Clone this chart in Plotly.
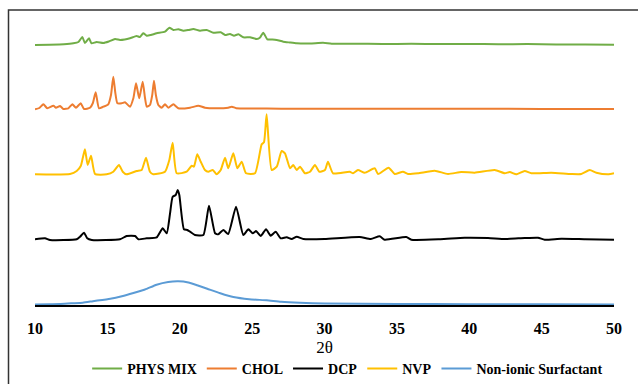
import plotly.graph_objects as go

# ---------------- data ----------------
phys_x = [10, 11, 12, 12.65, 13.0, 13.27, 13.45, 13.73, 13.9, 14.26, 14.72, 15.1, 15.53, 15.87,
          16.2, 16.56, 17.02, 17.25, 17.48, 17.72, 18.0, 18.4, 18.98, 19.28, 19.56, 19.9, 20.25,
          20.6, 20.94, 21.4, 21.86, 22.32, 22.83, 23.13, 23.47, 23.75, 24.05, 24.39, 24.85,
          25.32, 25.55, 25.77, 26.05, 26.4, 26.7, 27.15, 27.6, 28.08, 29.0, 29.9, 30.5, 32,
          34, 36, 38, 40, 42, 44, 46, 48, 50]
phys_y = [258, 258.3, 258.8, 259.7, 261, 266, 260, 264.7, 259.7, 261, 260, 261.5, 264, 263,
          263.5, 264.7, 267, 266, 269.7, 267.3, 268, 269.7, 271.3, 275.3, 273, 273.7, 272.3,
          273, 274, 272.3, 273, 270.3, 270.7, 268, 269, 267.3, 268.7, 265.7, 265.7,
          264, 265.5, 270.3, 263.7, 263.5, 263, 261.3, 260.5, 259.7, 259.5, 260.2, 259.3, 259.3,
          259, 259.2, 258.9, 259, 258.8, 258.9, 258.6, 258.4, 258.3]

chol_x = [10, 10.3, 10.58, 10.85, 11.27, 11.45, 11.73, 11.96, 12.3, 12.58, 12.83, 13.16, 13.39,
          13.8, 14.0, 14.19, 14.42, 14.72, 15.06, 15.25, 15.41, 15.55, 15.69, 15.99, 16.22, 16.56,
          16.8, 16.98, 17.2, 17.44, 17.6, 17.72, 17.94, 18.1, 18.22, 18.35, 18.52, 18.75, 18.98,
          19.21, 19.56, 19.9, 20.71, 21.28, 21.74, 22.55, 23.35, 23.6, 23.9, 25, 27, 30, 35,
          40, 45, 50]
chol_y = [193.7, 195, 198.7, 194.7, 197.3, 195.3, 197, 194, 194.7, 198.7, 195.3, 199.7, 194,
          195.3, 200, 210.7, 194.7, 196.3, 198.7, 208, 226.3, 210, 199.7, 199.7, 200.7, 196.3,
          205, 219.7, 204.7, 221.3, 205, 196.3, 198, 208, 222.3, 208, 198, 195.3, 198.7,
          195.3, 198.7, 194.7, 195.3, 197.3, 195.3, 194.7, 195.3, 196.3, 194.8, 194.5, 194.3, 194.3,
          194.2, 194.2, 194.1, 194]

nvp_x = [10, 12.42, 12.88, 13.16, 13.3, 13.45, 13.64, 13.87, 14.15, 14.95, 15.41, 15.8, 16.06,
         16.33, 17.03, 17.37, 17.67, 17.94, 18.17, 18.98, 19.28, 19.51, 19.79, 20.48, 20.83,
         20.98, 21.21, 21.45, 21.74, 21.97, 22.28, 22.55, 22.83, 23.13, 23.35, 23.7, 23.98,
         24.28, 24.58, 25.2, 25.66, 25.82, 26.0, 26.35, 26.7, 27.04, 27.27, 27.62, 27.84, 28.08,
         28.31, 28.65, 29.0, 29.34, 29.64, 30.03, 30.24, 30.59, 31.74, 31.97, 32.31, 32.78,
         33.47, 33.7, 34.43, 34.85, 35.42, 35.77, 36.46, 37.61, 38.53, 39.45, 40.37, 41.76,
         42.45, 42.8, 43.25, 43.83, 44.29, 45.67, 47.05, 47.74, 48.32, 48.78, 49.59, 50]
nvp_y = [128.7, 129, 132, 137, 145, 153.7, 138, 147.3, 129, 128.7, 131.3, 138, 131.3,
         128.7, 132, 133, 145.3, 131.3, 128.7, 131.3, 143, 160.3, 129.7, 131.3, 137.3,
         136.3, 148.7, 141.3, 133, 131.3, 133, 128.7, 133, 145.3, 134.7, 149.7, 134.7,
         141.3, 129.7, 129.7, 158.7, 160.7, 188.7, 133, 136.3, 152, 149.7, 134.7, 138, 133,
         136.3, 129.7, 131.3, 138, 131.3, 133, 141.3, 129.7, 131.3, 129.7, 133, 130.3,
         134.7, 129, 135.3, 129, 131.3, 129, 129.7, 132.3, 129, 131, 130.3, 133,
         129.7, 131, 128.7, 132, 129.7, 130.3, 129, 129, 133, 130.3, 128.7, 129.7]

dcp_x = [10, 10.69, 11.04, 12.88, 13.11, 13.39, 13.61, 13.92, 15.87, 16.33, 16.91, 17.14, 17.72,
         18.41, 18.82, 19.1, 19.33, 19.51, 19.72, 19.86, 19.97, 20.29, 20.52, 20.71, 21.05,
         21.63, 22.02, 22.44, 22.66, 23.01, 23.35, 23.89, 24.39, 24.74, 25.04, 25.27, 25.59,
         25.96, 26.28, 26.63, 26.97, 27.39, 27.73, 28.08, 28.54, 30, 32.43, 33.2, 33.81, 34.16,
         35.65, 36.0, 38, 39.68, 41.3, 42.5, 43.83, 44.75, 45.21, 46.36, 48, 50]
dcp_y = [63.7, 64.7, 63, 63.7, 66.3, 70.3, 64.7, 63, 63.7, 67, 67, 63.7, 64.7,
         65.7, 74.7, 69.7, 89.7, 106.3, 108, 113, 108, 73.7, 73, 71.3, 68,
         68, 97.3, 69.7, 68.7, 73, 69, 96.3, 68, 73.7, 69.7, 72, 67,
         73.7, 67.3, 71.3, 64.7, 65.7, 64, 66.3, 64, 64, 66, 64, 66.7, 63.3,
         66, 63.3, 63.8, 65.3, 65, 64, 65, 65.3, 63.3, 64.3, 63.8, 63.3]

surf_x = [10, 11, 11.7, 12.5, 13.3, 14, 15.2, 16, 16.8, 17.6, 18.4, 19.2, 19.9, 20.6, 21.2,
          21.9, 22.8, 23.7, 24.8, 26, 27, 28.3, 30, 35, 40, 45, 50]
surf_y = [-1.5, -1.2, -1, -0.3, 0.3, 1.8, 4.3, 6.8, 10, 13.5, 18.3, 21, 21.7, 20.5, 17.8,
          14.3, 9.8, 6, 3.8, 2.7, 1.3, 0.3, -0.5, -1, -1.2, -1.3, -1.5]

series = [
    ("PHYS MIX", phys_x, phys_y, "#70AD47"),
    ("CHOL", chol_x, chol_y, "#ED7D31"),
    ("DCP", dcp_x, dcp_y, "#000000"),
    ("NVP", nvp_x, nvp_y, "#FFC000"),
    ("Non-ionic Surfactant", surf_x, surf_y, "#5B9BD5"),
]

x_ticks = [10, 15, 20, 25, 30, 35, 40, 45, 50]

SERIF = "Liberation Serif, Times New Roman, serif"

fig = go.Figure()
for name, xs, ys, col in series:
    fig.add_trace(go.Scatter(x=xs, y=ys, name=name, mode="lines",
                             line=dict(color=col, width=2, shape="spline", smoothing=0.5)))

W, H = 638, 384
L, R, T, B = 35, 24, 15, 79
fig.update_layout(
    width=W, height=H,
    margin=dict(l=L, r=R, t=T, b=B, autoexpand=False),
    paper_bgcolor="white", plot_bgcolor="white",
    showlegend=True,
    legend=dict(orientation="h", x=0.54, xanchor="center", y=-0.22, yanchor="middle",
                font=dict(family=SERIF, size=14, color="#000000", weight="bold"),
                itemwidth=30, tracegroupgap=0, bgcolor="rgba(0,0,0,0)"),
    xaxis=dict(range=[10, 50], tickvals=x_ticks, ticktext=[str(v) for v in x_ticks],
               showgrid=False, zeroline=False, showline=True, linecolor="#000000", linewidth=1.5,
               ticks="", ticklabelstandoff=8, automargin=False,
               tickfont=dict(family=SERIF, size=16, color="#000000", weight="bold"),
               title=dict(text="2θ", standoff=5,
                          font=dict(family=SERIF, size=17, color="#000000"))),
    yaxis=dict(range=[-2, 288], visible=False, showgrid=False, zeroline=False, automargin=False),
    font=dict(family=SERIF),
)

plot_w = W - L - R
plot_h = H - T - B
fig.add_shape(type="rect", xref="paper", yref="paper",
              x0=(8.5 - L) / plot_w, x1=(W + 5 - L) / plot_w,
              y0=(H - B - (H + 5)) / plot_h, y1=(H - B - 10) / plot_h,
              line=dict(color="#333333", width=1.5), fillcolor="rgba(0,0,0,0)", layer="above")

fig.write_html("out.html")
